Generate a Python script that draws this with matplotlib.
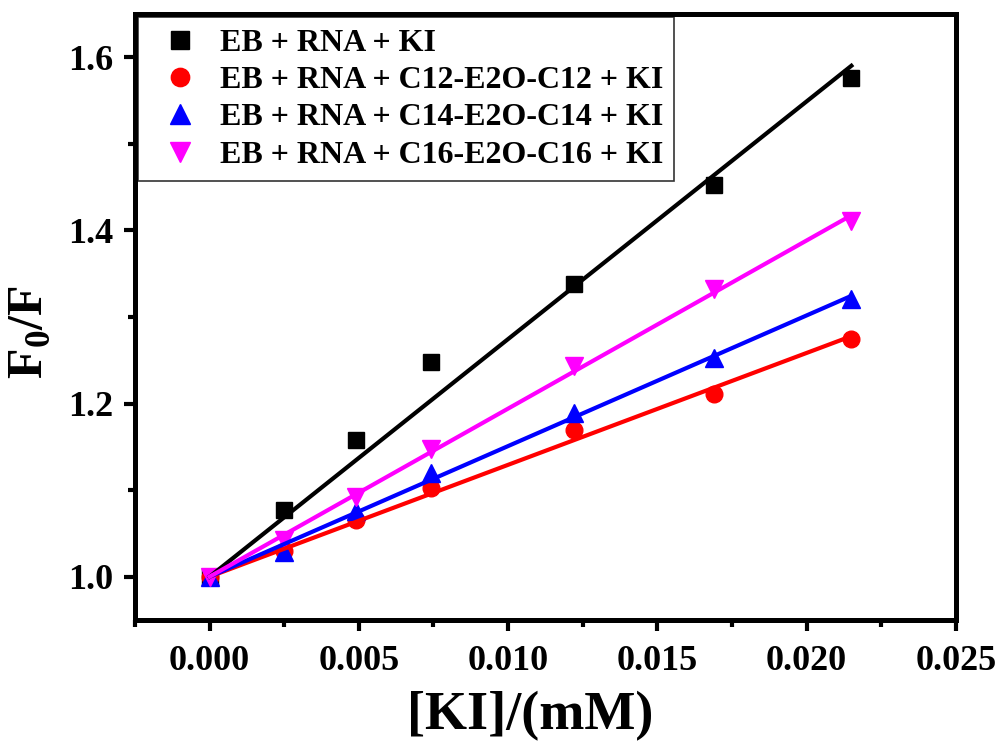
import matplotlib
matplotlib.use('Agg')
import matplotlib.pyplot as plt
import numpy as np
from matplotlib.ticker import MultipleLocator, FormatStrFormatter

plt.rcParams['font.family'] = ['Liberation Serif', 'DejaVu Serif']
plt.rcParams['font.weight'] = 'bold'
plt.rcParams['mathtext.fontset'] = 'custom'
plt.rcParams['mathtext.rm'] = 'Liberation Serif:bold'
plt.rcParams['mathtext.bf'] = 'Liberation Serif:bold'

# [KI] concentrations (mM)
ki_conc = [0.0, 0.0025, 0.0049, 0.0074, 0.0122, 0.0169, 0.0215]

# F0/F ratios per system
f_eb_rna = [1.0, 1.077, 1.158, 1.248, 1.338, 1.452, 1.576]
f_c12 = [1.0, 1.030, 1.065, 1.103, 1.170, 1.211, 1.274]
f_c14 = [1.0, 1.028, 1.076, 1.120, 1.189, 1.253, 1.321]
f_c16 = [1.0, 1.042, 1.092, 1.148, 1.243, 1.332, 1.411]

labels = ['EB + RNA + KI',
          'EB + RNA + C12-E2O-C12 + KI',
          'EB + RNA + C14-E2O-C14 + KI',
          'EB + RNA + C16-E2O-C16 + KI']
colors = ['black', 'red', 'blue', 'magenta']
markers = ['s', 'o', '^', 'v']
marker_sizes = [12, 12, 13, 13]


def stern_volmer_slope(x, y):
    # fit F0/F = 1 + Ksv[Q], line forced through (0, 1)
    x = np.asarray(x)
    y = np.asarray(y) - 1.0
    return np.sum(x * y) / np.sum(x * x)


fig = plt.figure(figsize=(10.03, 7.44), dpi=100)
ax = fig.add_axes([0.1346, 0.1667, 0.8184, 0.8145])

x = np.asarray(ki_conc)
for y, label, color, marker, ms in zip([f_eb_rna, f_c12, f_c14, f_c16], labels, colors, markers, marker_sizes):
    ax.plot(x, y, linestyle='none', marker=marker, color=color, markersize=ms, label=label, zorder=2)
    ksv = stern_volmer_slope(x, y)
    ax.plot(x, 1 + ksv * x, color=color, linewidth=3, zorder=3)

ax.set_xlim(-0.0025, 0.025)
ax.set_ylim(0.95, 1.65)
ax.xaxis.set_major_locator(MultipleLocator(0.005))
ax.xaxis.set_minor_locator(MultipleLocator(0.0025))
ax.yaxis.set_major_locator(MultipleLocator(0.2))
ax.yaxis.set_minor_locator(MultipleLocator(0.1))
ax.xaxis.set_major_formatter(FormatStrFormatter('%.3f'))
ax.yaxis.set_major_formatter(FormatStrFormatter('%.1f'))

for spine in ax.spines.values():
    spine.set_linewidth(3.6)
ax.tick_params(which='major', direction='out', length=8, width=3, labelsize=26)
ax.tick_params(axis='x', which='major', pad=10)
ax.tick_params(axis='y', which='major', pad=8)
ax.tick_params(which='minor', direction='out', length=5, width=3)

ax.set_xlabel('[KI]/(mM)', fontsize=39, fontweight='bold')
ax.xaxis.set_label_coords(0.481, -0.118)
ax.set_ylabel(r'F$_{\mathbf{0}}$/F', fontsize=36, fontweight='bold')
ax.yaxis.set_label_coords(-0.100, 0.475)

leg = ax.legend(loc='upper left', fontsize=23, frameon=True, fancybox=False,
                edgecolor='black', borderaxespad=0.1, handletextpad=0.3,
                labelspacing=0.25, borderpad=0.35, handlelength=1.9,
                markerscale=1.1)
leg.get_frame().set_linewidth(1.2)

fig.savefig('out.png', dpi=100)
